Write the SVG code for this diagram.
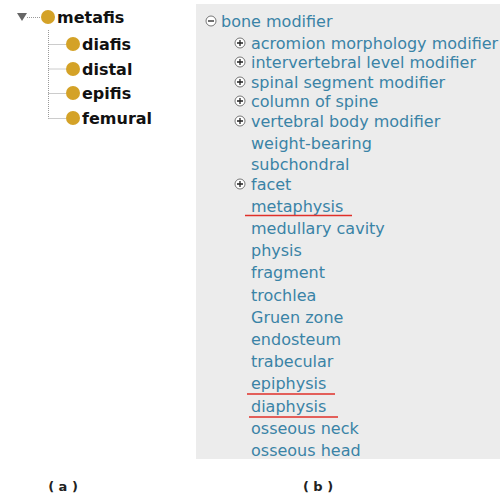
<svg xmlns="http://www.w3.org/2000/svg" width="500" height="494" viewBox="0 0 500 494">
<style>
.n{font-family:"DejaVu Sans",Verdana,sans-serif;font-weight:bold;font-size:16px;fill:#111}
.b{font-family:"DejaVu Sans",Verdana,sans-serif;font-size:16px;fill:#3a83a6}
.dot{fill:#d4a227}
.dl{stroke:#999;stroke-width:1;stroke-dasharray:1 1;fill:none}
.ul{stroke:#e0302a;stroke-width:1.5}
.pl{fill:#fff;stroke:#555;stroke-width:0.8}
.ps{stroke:#222;stroke-width:1.3}
.cap{font-family:"DejaVu Sans",Verdana,sans-serif;font-weight:bold;font-size:13px;fill:#222}
</style>
<rect x="196" y="4" width="304" height="455" fill="#ececec"/>
<g id="connectors">
<path class="dl" d="M27 17.5H41 M48.5 30V118.5 M48.5 44.5H66 M48.5 69H66 M48.5 93.5H66 M48.5 118.5H66"/>
</g>
<g id="metafis"><path d="M17 13H27L22 21Z" fill="#666"/><circle class="dot" cx="48" cy="17" r="7"/><text class="n" x="57" y="23">metafis</text></g>
<g id="diafis"><circle class="dot" cx="73" cy="44" r="7"/><text class="n" x="82" y="50">diafis</text></g>
<g id="distal"><circle class="dot" cx="73" cy="69" r="7"/><text class="n" x="82" y="75">distal</text></g>
<g id="epifis"><circle class="dot" cx="73" cy="93" r="7"/><text class="n" x="82" y="99">epifis</text></g>
<g id="femural"><circle class="dot" cx="73" cy="118" r="7"/><text class="n" x="82" y="124">femural</text></g>
<g id="tree-b">
<circle class="pl" cx="211" cy="21" r="5"/><path class="ps" d="M208 21H214"/>
<text class="b" x="221" y="27">bone modifier</text>
<g><circle class="pl" cx="240" cy="43" r="5"/><path class="ps" d="M237 43H243M240 40V46"/><text class="b" x="251" y="49">acromion morphology modifier</text></g>
<g><circle class="pl" cx="240" cy="62" r="5"/><path class="ps" d="M237 62H243M240 59V65"/><text class="b" x="251" y="68">intervertebral level modifier</text></g>
<g><circle class="pl" cx="240" cy="82" r="5"/><path class="ps" d="M237 82H243M240 79V85"/><text class="b" x="251" y="88">spinal segment modifier</text></g>
<g><circle class="pl" cx="240" cy="101" r="5"/><path class="ps" d="M237 101H243M240 98V104"/><text class="b" x="251" y="107">column of spine</text></g>
<g><circle class="pl" cx="240" cy="121" r="5"/><path class="ps" d="M237 121H243M240 118V124"/><text class="b" x="251" y="127">vertebral body modifier</text></g>
<text class="b" x="251" y="149">weight-bearing</text>
<text class="b" x="251" y="170">subchondral</text>
<g><circle class="pl" cx="240" cy="184" r="5"/><path class="ps" d="M237 184H243M240 181V187"/><text class="b" x="251" y="190">facet</text></g>
<text class="b" x="251" y="212">metaphysis</text>
<text class="b" x="251" y="234">medullary cavity</text>
<text class="b" x="251" y="256">physis</text>
<text class="b" x="251" y="278">fragment</text>
<text class="b" x="251" y="301">trochlea</text>
<text class="b" x="251" y="323">Gruen zone</text>
<text class="b" x="251" y="345">endosteum</text>
<text class="b" x="251" y="367">trabecular</text>
<text class="b" x="251" y="389">epiphysis</text>
<text class="b" x="251" y="412">diaphysis</text>
<text class="b" x="251" y="434">osseous neck</text>
<text class="b" x="251" y="456">osseous head</text>
<path class="ul" d="M245 215.5H352 M247 394H335 M249 417H338"/>
</g>
<text class="cap" x="63" y="491" text-anchor="middle">( a )</text>
<text class="cap" x="318" y="491" text-anchor="middle">( b )</text>
</svg>
